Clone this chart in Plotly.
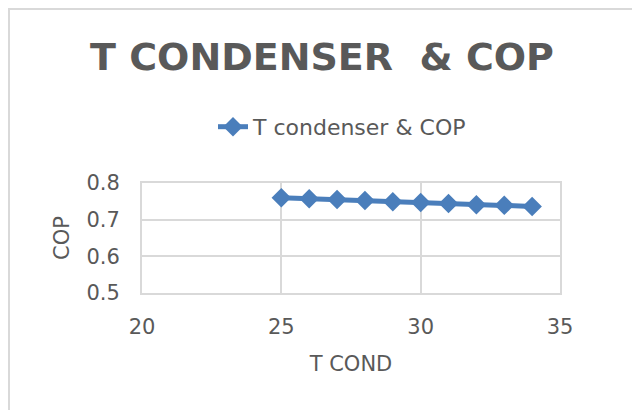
import plotly.graph_objects as go

# condenser temperature vs COP
t_cond = [25, 26, 27, 28, 29, 30, 31, 32, 33, 34]
cop = [0.760, 0.757, 0.755, 0.752, 0.749, 0.747, 0.744, 0.741, 0.739, 0.736]

x_ticks = [20, 25, 30, 35]
y_ticks = [0.5, 0.6, 0.7, 0.8]

blue = "#4a7ebb"
grey_text = "#595959"
grid = "#d9d9d9"

# plot area in figure pixels (page has an 8px body margin)
L, T, W, H = 134, 175, 418, 110

fig = go.Figure()
fig.add_trace(go.Scatter(
    x=t_cond, y=cop, mode="lines+markers", name="T condenser & COP",
    line=dict(color=blue, width=5),
    marker=dict(symbol="diamond", size=15, color=blue),
))

fig.update_layout(
    width=640, height=410,
    margin=dict(l=L, r=640 - L - W, t=T, b=410 - T - H),
    paper_bgcolor="white", plot_bgcolor="white",
    font=dict(family="DejaVu Sans", color=grey_text, size=21),
    title=dict(
        text="<b>T CONDENSER  &amp; COP</b>",
        font=dict(family="DejaVu Sans", size=38, color=grey_text),
        x=314 / 640, xanchor="center", y=1 - 49 / 410, yanchor="middle",
    ),
    showlegend=True,
    legend=dict(
        orientation="h", x=(213 - 8 - L) / W, xanchor="left", y=1.51, yanchor="middle",
        font=dict(size=22, color=grey_text),
    ),
    xaxis=dict(
        range=[20, 35], tickvals=x_ticks, showgrid=True, gridcolor=grid, gridwidth=2,
        showline=True, linecolor=grid, linewidth=2, mirror=True, zeroline=False,
        ticks="", ticklabelstandoff=14,
        title=dict(text="T COND", standoff=18, font=dict(size=21)),
    ),
    yaxis=dict(
        range=[0.5, 0.8], tickvals=y_ticks, tickformat=".1f", showgrid=True,
        gridcolor=grid, gridwidth=2, showline=True, linecolor=grid, linewidth=2,
        mirror=True, zeroline=False, ticks="", ticklabelstandoff=16,
        title=dict(text="COP", standoff=11, font=dict(size=21)),
    ),
    shapes=[dict(
        type="rect", xref="paper", yref="paper",
        x0=(1 - L) / W, x1=(631 - L) / W,
        y0=(T + H - 420) / H, y1=(T + H - 1) / H,
        line=dict(color=grid, width=2), fillcolor="rgba(0,0,0,0)", layer="below",
    )],
)

fig.write_html("out.html")
